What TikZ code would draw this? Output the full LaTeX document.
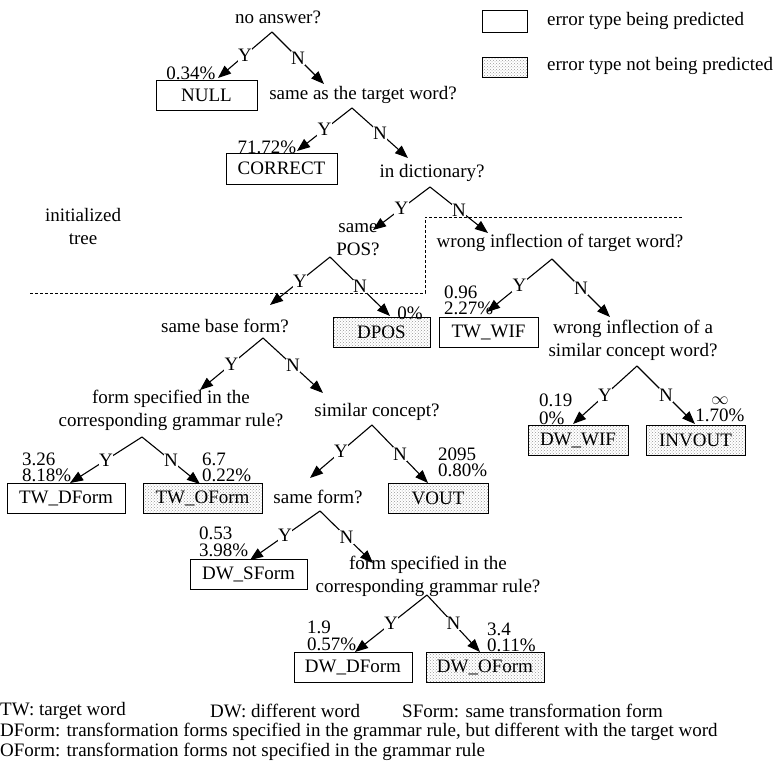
\documentclass[tikz,border=0pt]{standalone}
\usepackage{fontspec}
\setmainfont{Liberation Serif}
\usetikzlibrary{arrows.meta,patterns}
\begin{document}
\begin{tikzpicture}[x=1pt,y=-1pt,
  every node/.style={font=\fontsize{19}{23}\selectfont, inner sep=0pt},
  q/.style={align=center},
  yn/.style={fill=white, inner sep=0.6pt, pos=0.5},
  br/.style={line width=1.1pt, -{Triangle[length=13pt,width=10pt]}},
  ebox/.style={draw, line width=1pt, minimum height=30pt},
  pbox/.style={ebox, fill=white},
  nbox/.style={ebox, pattern=crosshatch dots, pattern color=gray!80},
  num/.style={align=left, font=\fontsize{19}{16}\selectfont},
  numc/.style={align=center, font=\fontsize{19}{17}\selectfont},
  foot/.style={anchor=west},
  dashline/.style={line width=0.8pt, dash pattern=on 3pt off 2pt},
]
\useasboundingbox (0,0) rectangle (777,764);

% legend
\node[pbox, minimum width=45pt, minimum height=22pt] (lg1) at (504.5,21) {};
\node[anchor=west] (lt1) at (547,21) {error type being predicted};
\node[nbox, minimum width=45pt, minimum height=20pt] (lg2) at (504.5,67) {};
\node[anchor=west] (lt2) at (547,66) {error type not being predicted};

% questions
\node[q] (q1) at (278,17) {no answer?};
\node[q] (q2) at (363,95) {same as the target word?};
\node[q] (q3) at (432,173) {in dictionary?};
\node[q] (q4) at (358,240) {same\\POS?};
\node[q] (q5) at (225,326) {same base form?};
\node[q] (q6) at (560,243) {wrong inflection of target word?};
\node[q] (q7) at (633,340) {wrong inflection of a\\similar concept word?};
\node[q] (q8) at (171,410) {form specified in the\\corresponding grammar rule?};
\node[q] (q9) at (377,412) {similar concept?};
\node[q] (q10) at (318,497) {same form?};
\node[q] (q11) at (428,576) {form specified in the\\corresponding grammar rule?};

\node[q] (init) at (83,226) {initialized\\tree};

% boxes
\node[pbox, minimum width=101pt] (null) at (206.5,95.5) {NULL};
\node[pbox, minimum width=111pt, minimum height=31pt] (correct) at (281.5,168.5) {CORRECT};
\node[nbox, minimum width=97pt] (dpos) at (381.5,332) {DPOS};
\node[pbox, minimum width=99pt] (twwif) at (488.5,332) {TW\_WIF};
\node[nbox, minimum width=100pt] (dwwif) at (578,440) {DW\_WIF};
\node[nbox, minimum width=99pt] (invout) at (695.5,440.5) {INVOUT};
\node[pbox, minimum width=118pt] (twdform) at (66,498) {TW\_DForm};
\node[nbox, minimum width=119pt] (twoform) at (202.5,498) {TW\_OForm};
\node[nbox, minimum width=100pt] (vout) at (438,498) {VOUT};
\node[pbox, minimum width=117pt] (dwsform) at (248.5,574) {DW\_SForm};
\node[pbox, minimum width=118pt] (dwdform) at (353,667) {DW\_DForm};
\node[nbox, minimum width=118pt] (dwoform) at (485,667) {DW\_OForm};

% dashed boundary
\draw[dashline] (30,293) -- (425,293) -- (425,217) -- (683,217);

% branch points and arrow tips
\coordinate (a1) at (272,32);  \coordinate (t1y) at (218,78);  \coordinate (t1n) at (324,84);
\coordinate (a2) at (352,108); \coordinate (t2y) at (297,151); \coordinate (t2n) at (408,158);
\coordinate (a3) at (430,187); \coordinate (t3y) at (373,230); \coordinate (t3n) at (488,233);
\coordinate (a4) at (330,257); \coordinate (t4y) at (270,305); \coordinate (t4n) at (390,316);
\coordinate (a5) at (263,338); \coordinate (t5y) at (200,390); \coordinate (t5n) at (323,393);
\coordinate (a6) at (552,259); \coordinate (t6y) at (487,312); \coordinate (t6n) at (610,317);
\coordinate (a7) at (637,366); \coordinate (t7y) at (573,424); \coordinate (t7n) at (695,424);
\coordinate (a8) at (142,437); \coordinate (t8y) at (70,483);  \coordinate (t8n) at (200,484);
\coordinate (a9) at (372,425); \coordinate (t9y) at (310,478); \coordinate (t9n) at (428,483);
\coordinate (a10) at (320,511); \coordinate (t10y) at (250,560); \coordinate (t10n) at (373,563);
\coordinate (a11) at (427,595); \coordinate (t11y) at (355,652); \coordinate (t11n) at (480,652);

\foreach \i in {1,...,11}{
  \draw[br] (a\i) -- node[yn]{Y} (t\i y);
  \draw[br] (a\i) -- node[yn]{N} (t\i n);
}

% numbers
\node (n1) at (191,73) {0.34\%};
\node (n2) at (267,147) {71.72\%};
\node (n3) at (410,313) {0\%};
\node[num, anchor=west] (n4) at (444,300) {0.96\\2.27\%};
\node[num, anchor=west] (n5) at (539,409) {0.19\\[2pt]0\%};
\node[numc] (n6) at (720,409) {$\infty$\\1.70\%};
\node[num, anchor=west] (n7) at (22,467) {3.26\\8.18\%};
\node[num, anchor=west] (n8) at (202,467) {6.7\\0.22\%};
\node[num, anchor=west] (n9) at (438,462) {2095\\0.80\%};
\node[num, anchor=west] (n10) at (199,542) {0.53\\[1pt]3.98\%};
\node[num, anchor=west] (n11) at (307,636) {1.9\\[1pt]0.57\%};
\node[num, anchor=west] (n12) at (487,637) {3.4\\0.11\%};

% footer
\node[foot] (f1) at (0,711) {TW: target word};
\node[foot] (f2) at (210,711) {DW: different word};
\node[foot] (f3) at (402,711) {SForm: same transformation form};
\node[foot] (f4) at (0,732) {DForm: transformation forms specified in the grammar rule, but different with the target word};
\node[foot] (f5) at (0,752) {OForm: transformation forms not specified in the grammar rule};
\end{tikzpicture}
\end{document}
